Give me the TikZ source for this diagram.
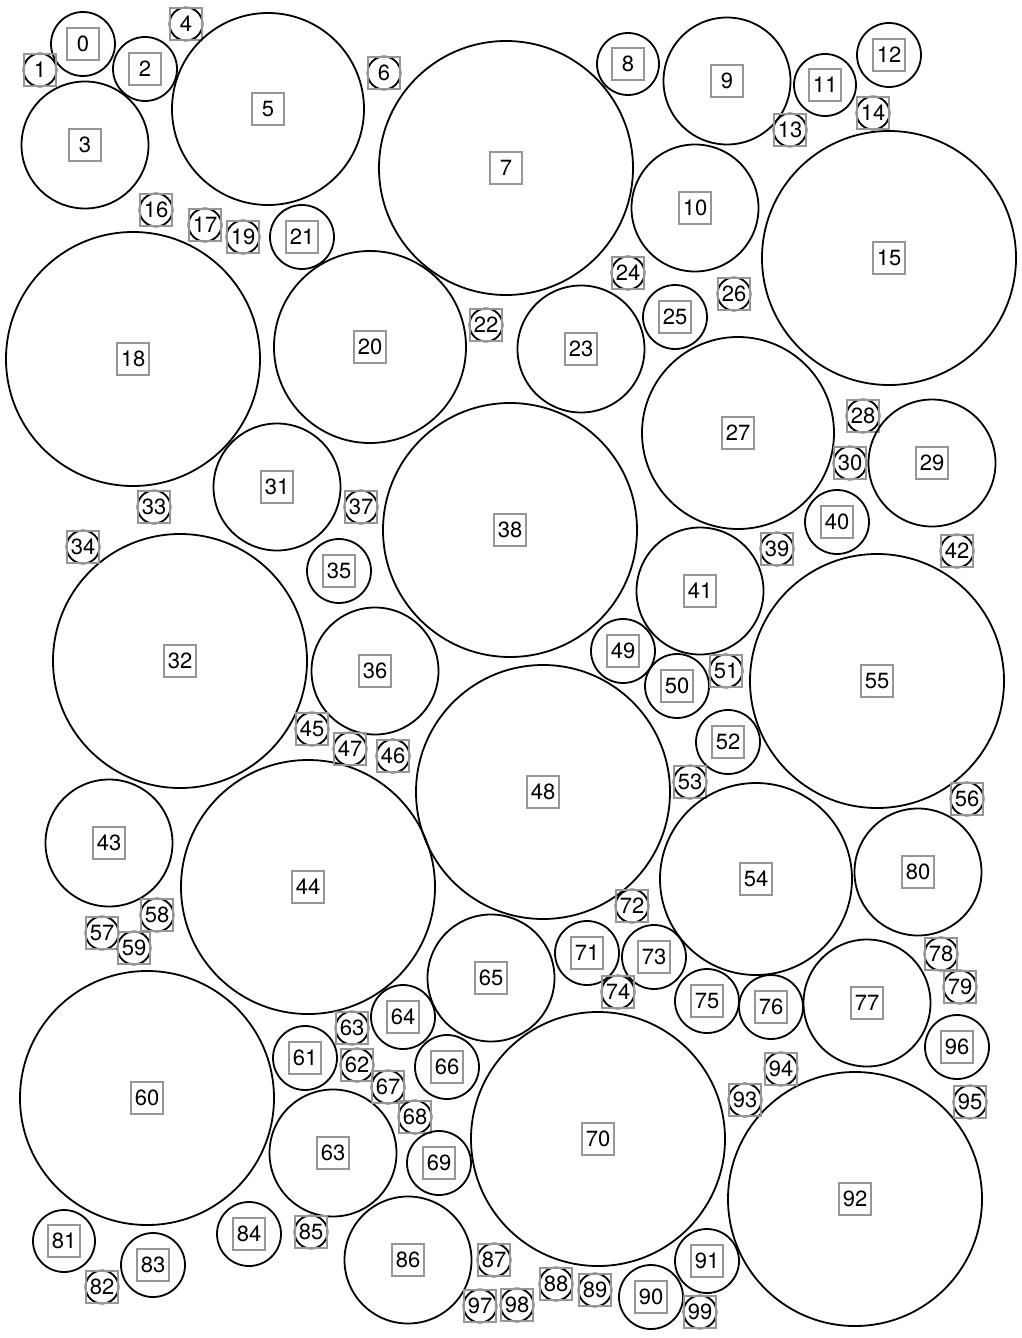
\documentclass[tikz,border=0pt]{standalone}
\usepackage{fontspec}
\setmainfont{TeX Gyre Heros}
\definecolor{boxgray}{RGB}{150,150,150}
\begin{document}
\begin{tikzpicture}[x=0.5pt,y=-0.5pt,
  ring/.style={circle,draw=black,line width=0.9pt,inner sep=0pt,outer sep=0pt},
  labbox/.style={rectangle,draw=boxgray,line width=0.7pt,minimum size=16pt,inner sep=0pt,font=\fontsize{11}{13}\selectfont}]
\useasboundingbox (0,0) rectangle (1022,1338);
\foreach \cx/\cy/\r/\l [count=\i] in {
83/44/32/0, 40/70/16.5/1, 145/69/32/2, 85/145/63.5/3, 186/24/16.5/4,
268/109/96/5, 384/73/16.5/6, 506/168/127/7, 628/64/31/8, 727/81/63.5/9,
695/208/63.5/10, 825/85/31/11, 889/55/32/12, 790/130/16.5/13, 873/113/16.5/14,
889/258/127/15, 156/210/16.5/16, 205/225/16.5/17, 133/359/127/18, 243/237/16.5/19,
370/347/96/20, 302/237/32/21, 486/325/16.5/22, 581/349/63.5/23, 628/273/16.5/24,
675/317/32/25, 734/294/16.5/26, 738/433/96/27, 863/416/16.5/28, 932/463/63.5/29,
850/463/16.5/30, 277/487/63.5/31, 180/661/127/32, 154/507/16.5/33, 83/547/16.5/34,
339/571/32/35, 375/671/63.5/36, 361/507/16.5/37, 510/530/127/38, 777/549/16.5/39,
837/522/32/40, 700/591/63.5/41, 957/551/16.5/42, 109/843/63.5/43, 308/887/127/44,
312/729/16.5/45, 393/756/16.5/46, 350/749/16.5/47, 543/792/127/48, 623/651/32/49,
677/686/32/50, 726/671/16.5/51, 728/742/32/52, 690/782/16.5/53, 756/879/96/54,
877/681/127/55, 967/799/16.5/56, 102/933/16.5/57, 157/915/16.5/58, 134/948/16.5/59,
147/1098/127/60, 305/1058/32/61, 357/1065/16.5/62, 352/1028/16.5/63, 333/1153/63.5/63,
403/1017/32/64, 491/978/63.5/65, 447/1067/32/66, 388/1087/16.5/67, 415/1117/16.5/68,
439/1163/32/69, 598/1139/127/70, 587/953/32/71, 632/906/16.5/72, 654/957/32/73,
618/992/16.5/74, 707/1001/32/75, 771/1007/32/76, 867/1003/63.5/77, 941/954/16.5/78,
960/987/16.5/79, 918/872/63.5/80, 64/1241/31/81, 102/1287/16.5/82, 153/1265/32/83,
249/1234/32/84, 311/1232/16.5/85, 408/1260/63.5/86, 494/1260/16.5/87, 556/1284/16.5/88,
595/1290/16.5/89, 651/1297/32/90, 707/1261/32/91, 855/1199/127/92, 745/1100/16.5/93,
781/1069/16.5/94, 970/1102/16.5/95, 957/1047/32/96, 480/1306/16.5/97, 517/1305/16.5/98,
700/1312/16.5/99}{
  \node[ring,minimum size=\r pt] (c\i) at (\cx,\cy) {};
  \node[labbox] (b\i) at (c\i.center) {\l};
}
\end{tikzpicture}
\end{document}
